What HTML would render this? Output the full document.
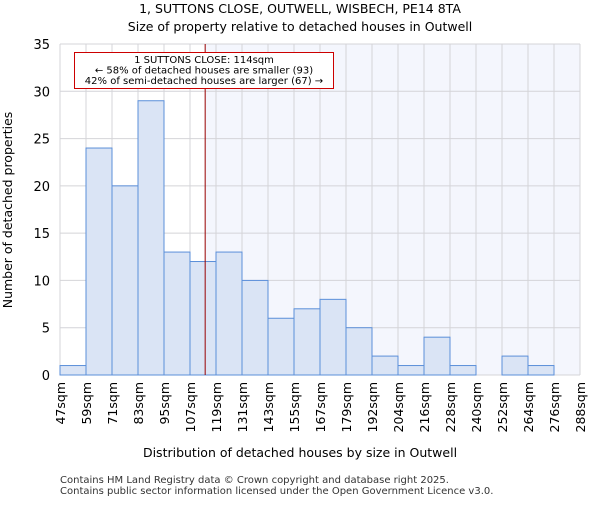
<!DOCTYPE html>
<html><head><meta charset="utf-8"><style>
body{margin:0;background:#fff;font-family:"Liberation Sans","DejaVu Sans",sans-serif}
</style></head><body>
<svg id="c" width="600" height="500" xmlns="http://www.w3.org/2000/svg" font-family="DejaVu Sans, Liberation Sans, sans-serif">
<text x="300" y="13" text-anchor="middle" font-size="12.5">1, SUTTONS CLOSE, OUTWELL, WISBECH, PE14 8TA</text>
<text x="300" y="31" text-anchor="middle" font-size="12.5">Size of property relative to detached houses in Outwell</text>
<g id="plot"></g>
<text x="300" y="457" text-anchor="middle" font-size="12.5">Distribution of detached houses by size in Outwell</text>
<text transform="translate(12,210) rotate(-90)" text-anchor="middle" font-size="12.5">Number of detached properties</text>
<text x="60" y="483" font-size="10" fill="#333">Contains HM Land Registry data © Crown copyright and database right 2025.</text>
<text x="60" y="494" font-size="10" fill="#333">Contains public sector information licensed under the Open Government Licence v3.0.</text>
</svg>
<script>
const categories=["47sqm","59sqm","71sqm","83sqm","95sqm","107sqm","119sqm","131sqm","143sqm","155sqm","167sqm","179sqm","192sqm","204sqm","216sqm","228sqm","240sqm","252sqm","264sqm","276sqm","288sqm"];
const counts=[1,24,20,29,13,12,13,10,6,7,8,5,2,1,4,1,0,2,1,0];
const yTicks=[0,5,10,15,20,25,30,35];
const propertySize=114;
const binStart=47, binStep=12;
const X0=60,X1=580,Y0=375,Y1=44,YMAX=35;
const n=counts.length;
const bw=(X1-X0)/n;
const xIdx=i=>X0+i*bw;
const xVal=v=>X0+(v-binStart)/binStep*bw;
const y=v=>Y0-(v/YMAX)*(Y0-Y1);
const NS="http://www.w3.org/2000/svg";
const g=document.getElementById('plot');
function mk(t,a){const e=document.createElementNS(NS,t);for(const k in a)e.setAttribute(k,a[k]);g.appendChild(e);return e;}
const px=xVal(propertySize);
let e=mk('rect',{x:X0,y:Y1,width:X1-X0,height:Y0-Y1,fill:'#fff'});


e=mk('rect',{x:px,y:Y1,width:X1-px,height:Y0-Y1,fill:'#f4f6fd'});


for(let i=0;i<=n;i++){e=mk('line',{x1:xIdx(i),x2:xIdx(i),y1:Y1,y2:Y0,stroke:'#d4d4d8','stroke-width':1});

}
yTicks.forEach(t=>{e=mk('line',{x1:X0,x2:X1,y1:y(t),y2:y(t),stroke:'#d4d4d8','stroke-width':1});


e=mk('text',{x:X0-10,y:y(t)+5,'text-anchor':'end','font-size':13});e.textContent=t;

});
counts.forEach((c,i)=>{if(c<=0)return;e=mk('rect',{x:xIdx(i),y:y(c),width:bw,height:Y0-y(c),fill:'#dae4f5',stroke:'#5b8fd9','stroke-width':1});

});
categories.forEach((c,i)=>{const xx=xIdx(i);e=mk('text',{transform:`translate(${xx+5},${382}) rotate(-90)`,'text-anchor':'end','font-size':12.5});e.textContent=c;

});
e=mk('line',{x1:px,x2:px,y1:Y1,y2:Y0,stroke:'#990000','stroke-width':1});


e=mk('rect',{x:74.5,y:52.5,width:259,height:36,fill:'#fff',stroke:'#cc0000','stroke-width':1});


["1 SUTTONS CLOSE: 114sqm","← 58% of detached houses are smaller (93)","42% of semi-detached houses are larger (67) →"].forEach((t,i)=>{e=mk('text',{x:204,y:63+i*10.5,'text-anchor':'middle','font-size':10});e.textContent=t;

});
</script>
</body></html>
